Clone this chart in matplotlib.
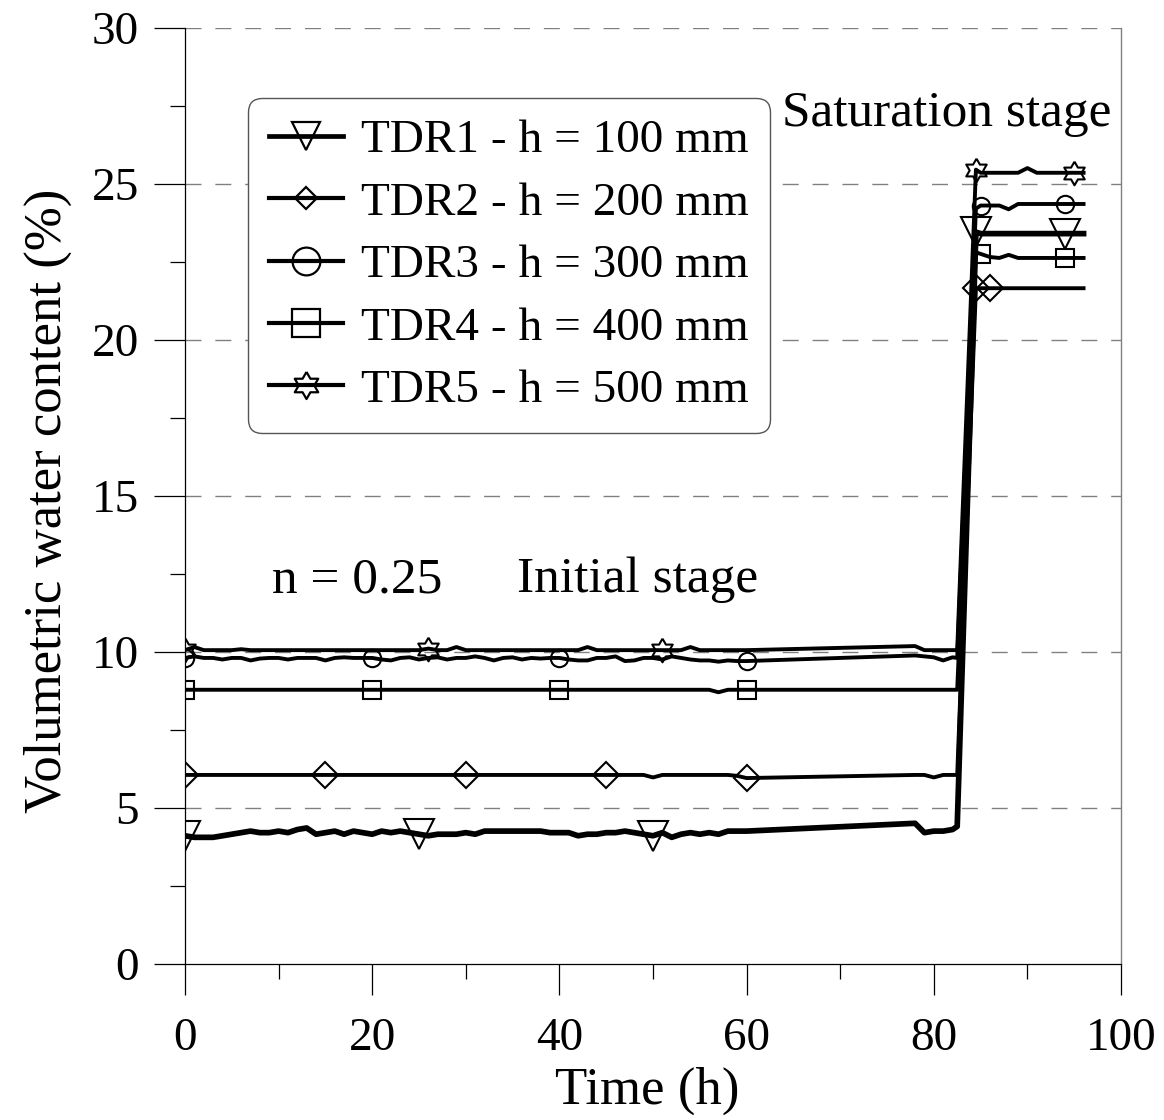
import numpy as np
import matplotlib
matplotlib.use('Agg')
import matplotlib.pyplot as plt
from matplotlib.lines import Line2D
from matplotlib.ticker import MultipleLocator

plt.rcParams['font.family'] = ['Liberation Serif', 'DejaVu Serif']
plt.rcParams['font.size'] = 34

# ---------------- data ----------------
hours_initial = np.arange(0, 61, 1.0)
hours_late = [78, 79, 80, 81, 82, 82.5]
hours_sat = [84.5, 85, 86, 87, 88, 89, 90, 91, 92, 93, 94, 95, 96]

tdr1_initial = [4.10, 4.05, 4.05, 4.05, 4.10, 4.15, 4.20, 4.25, 4.20, 4.20,
                4.25, 4.20, 4.30, 4.35, 4.15, 4.20, 4.25, 4.15, 4.25, 4.20,
                4.15, 4.25, 4.20, 4.25, 4.20, 4.15, 4.10, 4.15, 4.15, 4.15,
                4.20, 4.15, 4.25, 4.25, 4.25, 4.25, 4.25, 4.25, 4.25, 4.20,
                4.20, 4.20, 4.10, 4.15, 4.15, 4.20, 4.20, 4.25, 4.20, 4.15,
                4.10, 4.20, 4.05, 4.15, 4.20, 4.15, 4.20, 4.15, 4.25, 4.25,
                4.25]
tdr1_late = [4.50, 4.20, 4.25, 4.25, 4.30, 4.40]
tdr1_sat = [23.45, 23.40, 23.40, 23.40, 23.40, 23.40, 23.40, 23.40, 23.40,
            23.40, 23.40, 23.40, 23.40]

tdr2_initial = [6.05, 6.05, 6.05, 6.05, 6.05, 6.05, 6.05, 6.05, 6.05, 6.05,
                6.05, 6.05, 6.05, 6.05, 6.05, 6.05, 6.05, 6.05, 6.05, 6.05,
                6.05, 6.05, 6.05, 6.05, 6.05, 6.05, 6.05, 6.05, 6.05, 6.05,
                6.05, 6.05, 6.05, 6.05, 6.05, 6.05, 6.05, 6.05, 6.05, 6.05,
                6.05, 6.05, 6.05, 6.05, 6.05, 6.05, 6.05, 6.05, 6.05, 6.05,
                5.97, 6.05, 6.05, 6.05, 6.05, 6.05, 6.05, 6.05, 6.05, 6.02,
                5.95]
tdr2_late = [6.05, 6.05, 5.97, 6.05, 6.05, 6.05]
tdr2_sat = [21.65, 21.65, 21.65, 21.65, 21.65, 21.65, 21.65, 21.65, 21.65,
            21.65, 21.65, 21.65, 21.65]

tdr3_initial = [9.80, 9.85, 9.80, 9.80, 9.75, 9.80, 9.80, 9.72, 9.78, 9.80,
                9.80, 9.75, 9.80, 9.80, 9.80, 9.72, 9.80, 9.82, 9.80, 9.80,
                9.80, 9.75, 9.72, 9.80, 9.82, 9.75, 9.80, 9.82, 9.75, 9.80,
                9.80, 9.85, 9.80, 9.72, 9.80, 9.82, 9.75, 9.80, 9.78, 9.80,
                9.80, 9.75, 9.72, 9.72, 9.80, 9.80, 9.85, 9.70, 9.72, 9.80,
                9.80, 9.75, 9.85, 9.80, 9.75, 9.72, 9.72, 9.68, 9.72, 9.70,
                9.70]
tdr3_late = [9.88, 9.85, 9.82, 9.72, 9.82, 9.80]
tdr3_sat = [24.20, 24.30, 24.30, 24.30, 24.18, 24.35, 24.35, 24.35, 24.35,
            24.35, 24.35, 24.35, 24.35]

tdr4_initial = [8.78, 8.78, 8.78, 8.78, 8.78, 8.78, 8.78, 8.78, 8.78, 8.78,
                8.78, 8.78, 8.78, 8.78, 8.78, 8.78, 8.78, 8.78, 8.78, 8.78,
                8.78, 8.78, 8.78, 8.78, 8.78, 8.78, 8.78, 8.78, 8.78, 8.78,
                8.78, 8.78, 8.78, 8.78, 8.78, 8.78, 8.78, 8.78, 8.78, 8.78,
                8.78, 8.78, 8.78, 8.78, 8.78, 8.78, 8.78, 8.78, 8.78, 8.78,
                8.78, 8.78, 8.78, 8.78, 8.78, 8.78, 8.78, 8.70, 8.78, 8.78,
                8.78]
tdr4_late = [8.78, 8.78, 8.78, 8.78, 8.78, 8.78]
tdr4_sat = [22.80, 22.75, 22.65, 22.62, 22.72, 22.62, 22.62, 22.62, 22.62,
            22.62, 22.62, 22.62, 22.62]

tdr5_initial = [10.05, 10.15, 10.05, 10.05, 10.05, 10.05, 10.08, 10.05, 10.05, 10.05,
                10.05, 10.05, 10.05, 10.05, 10.05, 10.05, 10.05, 10.05, 10.05, 10.05,
                10.05, 10.05, 10.05, 10.05, 10.05, 10.05, 10.10, 10.05, 10.05, 10.15,
                10.05, 10.05, 10.05, 10.05, 10.05, 10.05, 10.05, 10.05, 10.05, 10.05,
                10.05, 10.05, 10.05, 10.15, 10.05, 10.05, 10.05, 10.05, 10.05, 10.05,
                10.05, 10.05, 10.05, 10.05, 10.15, 10.05, 10.05, 10.05, 10.05, 10.05,
                10.05]
tdr5_late = [10.18, 10.05, 10.05, 10.05, 10.05, 10.05]
tdr5_sat = [25.45, 25.35, 25.35, 25.35, 25.35, 25.35, 25.50, 25.35, 25.35,
            25.35, 25.35, 25.35, 25.35]

labels = ['TDR1 - h = 100 mm', 'TDR2 - h = 200 mm', 'TDR3 - h = 300 mm',
          'TDR4 - h = 400 mm', 'TDR5 - h = 500 mm']
marker_hours = [[0, 25, 50, 84.5, 94],
                [0, 15, 30, 45, 60, 84.5, 86],
                [0, 20, 40, 60, 85, 94],
                [0, 20, 40, 60, 85, 94],
                [0, 26, 51, 84.5, 95]]

# ---------------- styles ----------------
ang_out = np.deg2rad(90 + 60 * np.arange(6))
ang_in = np.deg2rad(120 + 60 * np.arange(6))
r_in = 1 / np.sqrt(3)
hexagram = []
for ao, ai in zip(ang_out, ang_in):
    hexagram.append((np.cos(ao), np.sin(ao)))
    hexagram.append((r_in * np.cos(ai), r_in * np.sin(ai)))
hexagram.append(hexagram[0])

markers = ['v', 'D', 'o', 's', hexagram]
plot_ms = [21, 13.5, 12.5, 13, 17]
legend_ms = [20, 11.5, 20, 20, 19.5]
line_w = [4.1, 2.8, 2.8, 2.8, 2.8]

series = [(tdr1_initial, tdr1_late, tdr1_sat),
          (tdr2_initial, tdr2_late, tdr2_sat),
          (tdr3_initial, tdr3_late, tdr3_sat),
          (tdr4_initial, tdr4_late, tdr4_sat),
          (tdr5_initial, tdr5_late, tdr5_sat)]

hours_all = np.concatenate([hours_initial, hours_late, hours_sat])

fig = plt.figure(figsize=(11.64, 11.2), dpi=100)
ax = fig.add_axes([185 / 1164, 1 - 963.7 / 1120, 936 / 1164, 936 / 1120])

handles = []
for i, (ini, late, sat) in enumerate(series):
    vals = np.concatenate([ini, late, sat])
    idx = [j for j, h in enumerate(hours_all) if h in marker_hours[i]]
    ax.plot(hours_all, vals, color='black', lw=line_w[i], marker=markers[i],
            markevery=idx, ms=plot_ms[i], mfc='none', mec='black', mew=1.5,
            zorder=3 + (5 - i) * 0.1, solid_joinstyle='round')
    handles.append(Line2D([], [], color='black', lw=3.4 if i == 0 else 3.0,
                          marker=markers[i], ms=legend_ms[i], mfc='none',
                          mec='black', mew=1.6))

ax.set_xlim(0, 100)
ax.set_ylim(0, 30)
ax.xaxis.set_major_locator(MultipleLocator(20))
ax.xaxis.set_minor_locator(MultipleLocator(10))
ax.yaxis.set_major_locator(MultipleLocator(5))
ax.yaxis.set_minor_locator(MultipleLocator(2.5))
ax.tick_params(which='major', direction='out', length=22, width=0.9,
               labelsize=34, pad=11)
ax.tick_params(which='minor', direction='out', length=10.5, width=0.9)
ax.tick_params(axis='x', which='major', pad=17)

for yv in [5, 10, 15, 20, 25, 30]:
    ax.axhline(yv, color='#808080', lw=1.0, ls=(0, (11.5, 10)), zorder=1)

ax.spines['top'].set_visible(False)
ax.spines['right'].set_color('#808080')
ax.spines['right'].set_linewidth(1.0)
ax.spines['left'].set_linewidth(0.9)
ax.spines['bottom'].set_linewidth(0.9)

ax.set_xlabel('Time (h)', fontsize=38)
ax.set_ylabel('Volumetric water content (%)', fontsize=38)
ax.xaxis.set_label_coords(0.4936, -0.110)
ax.yaxis.set_label_coords(-0.121, 0.495)

ax.text(9.3, 11.9, 'n = 0.25', fontsize=37, va='baseline', ha='left')
ax.text(35.5, 11.9, 'Initial stage', fontsize=37, va='baseline', ha='left')
ax.text(63.8, 26.86, 'Saturation stage', fontsize=37, va='baseline', ha='left')

leg = ax.legend(handles, labels, loc='upper left',
                bbox_to_anchor=(63 / 936, (963.7 - 98) / 936),
                borderaxespad=0, fontsize=34, handlelength=1.57,
                handletextpad=0.38, labelspacing=0.41, borderpad=0.45,
                fancybox=True, framealpha=1, edgecolor='#555555')
leg.get_frame().set_boxstyle('round', pad=0, rounding_size=0.3)
leg.get_frame().set_linewidth(1.0)
leg.set_zorder(5)

fig.savefig('out.png', dpi=100)
